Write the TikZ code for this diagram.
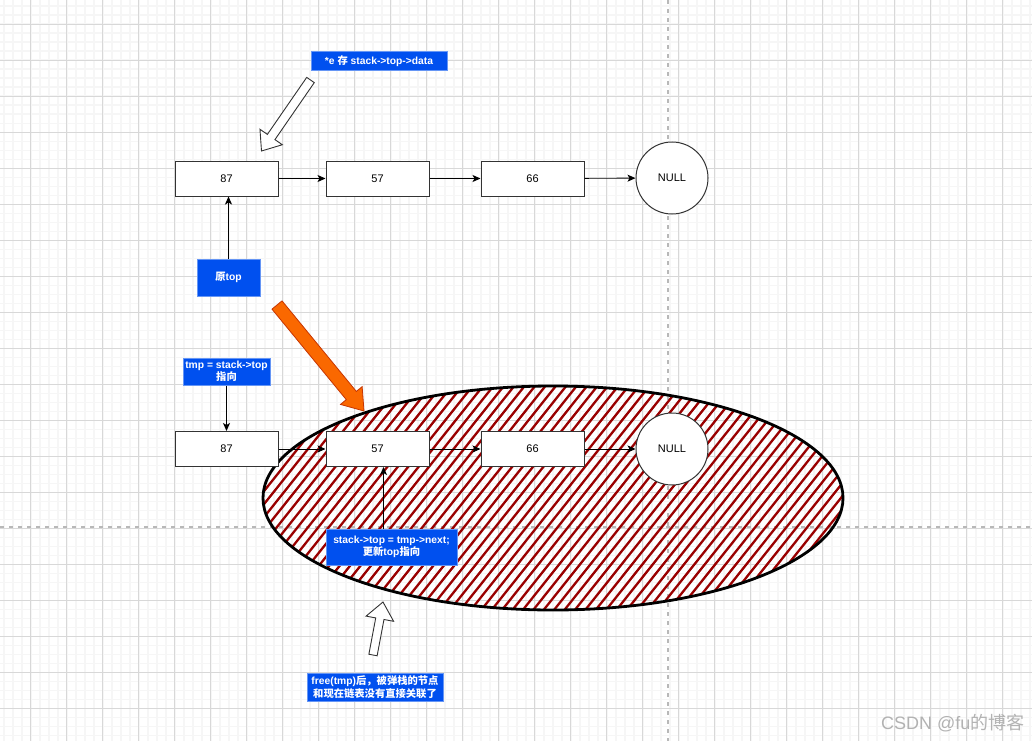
\documentclass[tikz,border=0pt]{standalone}
\usepackage{fontspec}
\setmainfont{Liberation Sans}
\newfontfamily\cjk{Noto Sans CJK SC}
\usepackage{tikz}
\usetikzlibrary{arrows.meta,calc}
\definecolor{mblue}{RGB}{0,80,239}
\definecolor{morange}{RGB}{250,104,0}
\definecolor{mdorange}{RGB}{199,53,0}
\definecolor{hred}{RGB}{153,0,0}
\definecolor{gmajor}{RGB}{216,216,216}
\definecolor{gminor}{RGB}{246,246,246}

% block arrow: style, tail, tip, shaft half width, head half width, head length
\newcommand\blockarrow[6]{%
  \coordinate (ba-h) at ($(#3)!#6!(#2)$);
  \draw[#1] ($(#2)!#4!90:(#3)$) -- ($(ba-h)!#4!90:(#3)$) -- ($(ba-h)!#5!90:(#3)$)
    -- (#3) -- ($(ba-h)!#5!-90:(#3)$) -- ($(ba-h)!#4!-90:(#3)$) -- ($(#2)!#4!-90:(#3)$) -- cycle;}

\begin{document}
\begin{tikzpicture}[x=1pt, y=-1pt,
    box/.style={draw=black!80, fill=white, line width=1pt, minimum width=103pt, minimum height=35pt,
                inner sep=0pt, font=\fontsize{11}{13}\selectfont},
    nul/.style={circle, draw=black!80, fill=white, line width=1pt, minimum size=72pt, inner sep=0pt,
                font=\fontsize{11}{13}\selectfont},
    lbl/.style={draw=mblue!60!white, fill=mblue, text=white, line width=1pt, inner sep=0pt, align=center,
                font=\fontsize{10.3}{12.5}\selectfont\bfseries},
    arr/.style={-{Stealth[length=8pt, width=7pt, inset=2pt]}, black, line width=0.9pt},
  ]
    \useasboundingbox (0,0) rectangle (1032,741);
    \fill[white] (0,0) rectangle (1032,741);

    % grid
    \foreach \x in {3.7,12.7,...,1032} \draw[gminor, line width=1.6pt] (\x,0) -- (\x,741);
    \foreach \y in {6.3,15.3,...,741} \draw[gminor, line width=1.6pt] (0,\y) -- (1032,\y);
    \foreach \x in {30.7,66.7,...,1032} \draw[gmajor, line width=1pt] (\x,0) -- (\x,741);
    \foreach \y in {24.3,60.3,...,741} \draw[gmajor, line width=1pt] (0,\y) -- (1032,\y);
    \draw[black!28, line width=1.2pt, dash pattern=on 4pt off 5pt] (668,0) -- (668,741);
    \draw[black!28, line width=1.2pt, dash pattern=on 4pt off 5pt] (0,527) -- (1032,527);

    % freed part of the list
    \begin{scope}
      \clip (553,498) ellipse [x radius=290pt, y radius=112pt];
      \foreach \i in {0,...,76} \draw[hred, line width=2.3pt] (62+10.4*\i,614) -- ++(185,-232);
    \end{scope}
    \draw[black, line width=2.8pt] (553,498) ellipse [x radius=290pt, y radius=112pt];

    \coordinate (oa1) at (277,305);
    \coordinate (oa2) at (364,411);
    \blockarrow{fill=morange, draw=mdorange, line width=0.8pt}{oa1}{oa2}{6.5pt}{14pt}{20pt}

    \node[box] (t87) at (226.5,178.5) {87};
    \node[box] (t57) at (377.5,178.5) {57};
    \node[box] (t66) at (532.5,178.5) {66};
    \node[nul] (tnull) at (672,178) {NULL};

    \node[box] (b87) at (226.5,449) {87};
    \node[box] (b57) at (377.5,449) {57};
    \node[box] (b66) at (532.5,449) {66};
    \node[nul] (bnull) at (672,449) {NULL};

    \node[lbl, minimum width=136pt, minimum height=19pt] (ldata) at (379,61.5) {*e {\cjk 存} stack->top->data};
    \node[lbl, minimum width=63pt, minimum height=37pt] (lorig) at (228.5,277.5) {{\cjk 原}top};
    \node[lbl, minimum width=87pt, minimum height=27pt] (ltmp) at (226.5,371.5) {tmp = stack->top\\{\cjk 指向}};
    \node[lbl, minimum width=131pt, minimum height=36pt] (lupd) at (391.5,547) {stack->top = tmp->next;\\{\cjk 更新}top{\cjk 指向}};
    \node[lbl, minimum width=136pt, minimum height=28pt] (lfree) at (375,687) {free(tmp){\cjk 后，被弹栈的节点}\\{\cjk 和现在链表没有直接关联了}};

    \draw[arr] (t87) -- (t57);
    \draw[arr] (t57) -- (t66);
    \draw[arr] (t66) -- (tnull);
    \draw[arr] (lorig.north) -- (lorig.north |- t87.south);
    \draw[arr] (ltmp) -- (b87);
    \draw[arr] (b87) -- (b57);
    \draw[arr] (b57) -- (b66);
    \draw[arr] (b66) -- (bnull);
    \draw[arr] ([xshift=-8pt]lupd.north) -- ([xshift=-8pt]lupd.north |- b57.south);

    \coordinate (wa1) at (310.5,80);
    \coordinate (wa2) at (261.5,151);
    \blockarrow{fill=white, draw=black!80, line width=0.9pt}{wa1}{wa2}{4.6pt}{13.6pt}{17pt}
    \coordinate (wb1) at (373,655);
    \coordinate (wb2) at (383,602);
    \blockarrow{fill=white, draw=black!80, line width=0.9pt}{wb1}{wb2}{4.2pt}{14pt}{17pt}

    \node[text=black!30, font=\fontsize{18}{20}\selectfont, anchor=east] (mark) at (1028,723) {CSDN @fu{\cjk 的博客}};
\end{tikzpicture}
\end{document}
